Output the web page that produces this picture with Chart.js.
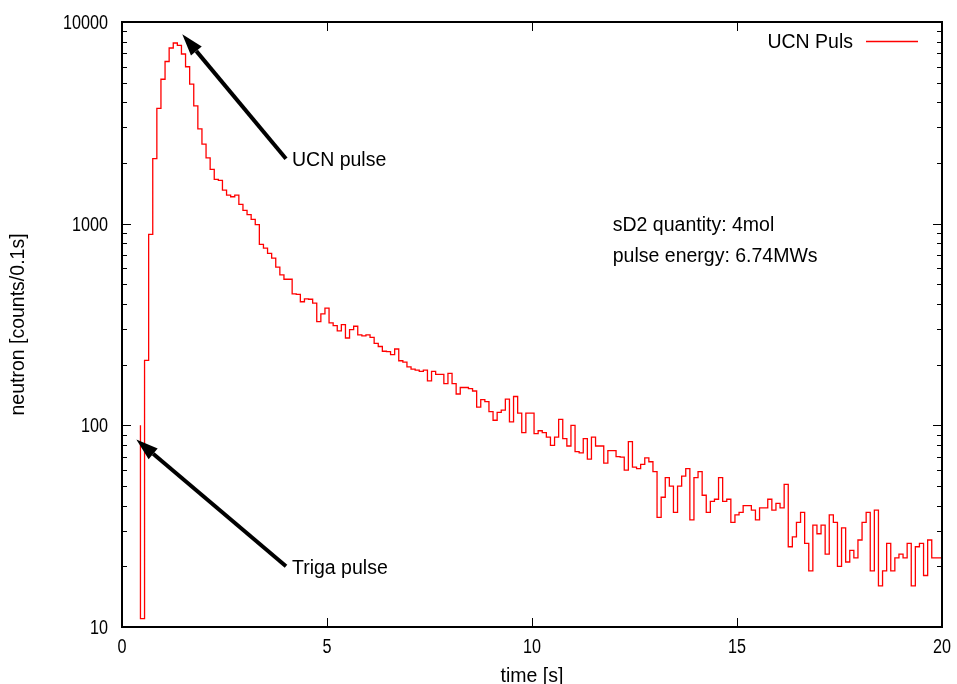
<!DOCTYPE html>
<html>
<head>
<meta charset="utf-8">
<script src="https://cdn.jsdelivr.net/npm/chart.js@4/dist/chart.umd.min.js"></script>
<style>
  html, body { margin: 0; padding: 0; background: #fff; }
  #wrap { width: 957px; height: 684px; }
</style>
</head>
<body>
<div id="wrap"><canvas id="pulseChart" width="957" height="684"></canvas></div>
<script>
// histogram bins of 0.1 s, first (empty) bin starts at 0.35 s
const binStart = 0.35;
const binWidth = 0.1;
const seriesLabel = 'UCN Puls';

// neutron counts per 0.1 s bin
const counts = [
  0, 100, 11, 210, 885, 2100, 3730, 5200, 6370, 7430,
  7870, 7650, 6940, 6000, 4920, 3840, 2950, 2480, 2120, 1860,
  1660, 1640, 1465, 1385, 1360, 1385, 1245, 1165, 1110, 1050,
  990, 790, 757, 712, 675, 609, 557, 530, 530, 449,
  446, 410, 424, 422, 404, 327, 357, 381, 322, 312,
  294, 316, 271, 298, 310, 281, 278, 281, 273, 255,
  246, 233, 232, 224, 239, 209, 206, 195, 190, 188,
  185, 188, 166, 185, 179, 179, 161, 181, 161, 143,
  154, 154, 152, 148, 123, 134, 131, 117, 106, 116,
  119, 135, 104, 139, 115, 92, 115, 115, 91, 94,
  92, 87.5, 79.5, 87.5, 107, 86, 79, 100, 74, 73,
  86, 68, 87.5, 79, 79, 65, 75, 75, 70, 69.5,
  60, 83, 62, 61, 64, 69, 66, 59, 35, 44,
  55, 50, 37, 50, 56, 61, 34, 55, 59, 45,
  37, 42, 43, 55, 42, 43, 33, 36, 37, 40,
  40, 38, 34, 39, 39, 43, 38, 41, 39, 51,
  25, 28, 33, 37, 26, 19, 32, 29, 32, 23,
  36, 33, 20, 31, 21, 24, 22, 27, 33, 37,
  19, 38, 16, 19, 26, 19, 22, 23, 22, 26,
  16, 25, 26, 18, 27, 22, 22
];

const xTicks = [0, 5, 10, 15, 20];
const yTicks = [10, 100, 1000, 10000];

// annotations: arrow tail -> head in data units, label beside the tail
const arrowTails = [[4, 2100], [4, 20]];
const arrowHeads = [[1.47, 8700], [0.35, 85]];
const arrowLabels = ['UCN pulse', 'Triga pulse'];
const noteLines = ['sD2 quantity: 4mol', 'pulse energy: 6.74MWs'];
const notePos = [[11.97, 1000], [11.97, 700]];

const FONT = "'Liberation Sans', Arial, sans-serif";
const TEXT_FONT = '19.5px ' + FONT;
Chart.defaults.font.family = FONT;
Chart.defaults.font.size = 19.5;
Chart.defaults.color = '#000';

const points = [];
counts.forEach((c, i) => points.push({x: binStart + i * binWidth, y: c}));
points.push({x: binStart + counts.length * binWidth, y: counts[counts.length - 1]});

// tick numbers in the reference are a condensed face: squeeze the regular one
function narrowText(ctx, text, px, py, align) {
  ctx.save();
  ctx.translate(px, py);
  ctx.scale(0.83, 1);
  ctx.textAlign = align;
  ctx.fillText(text, 0, 0);
  ctx.restore();
}

// gnuplot style frame, inward ticks, tick labels, legend and labels
const gnuFrame = {
  id: 'gnuFrame',
  afterDatasetsDraw(chart) {
    const {ctx, chartArea: a, scales: {x, y}} = chart;
    const seg = (x1, y1, x2, y2) => { ctx.beginPath(); ctx.moveTo(x1, y1); ctx.lineTo(x2, y2); ctx.stroke(); };
    ctx.save();
    ctx.strokeStyle = '#000';
    ctx.lineWidth = 1;
    x.ticks.forEach(t => {
      const px = Math.round(x.getPixelForValue(t.value)) + 0.5;
      seg(px, a.bottom, px, a.bottom - 9);
      seg(px, a.top, px, a.top + 9);
    });
    for (let d = 10; d < 10000; d *= 10) {
      for (let m = 1; m < 10; m++) {
        const py = Math.round(y.getPixelForValue(d * m)) + 0.5;
        const len = m === 1 ? 9 : 5;
        seg(a.left, py, a.left + len, py);
        seg(a.right, py, a.right - len, py);
      }
    }
    ctx.lineWidth = 2;
    ctx.strokeRect(a.left, a.top, a.right - a.left, a.bottom - a.top);

    ctx.font = TEXT_FONT;
    ctx.fillStyle = '#000';
    ctx.textBaseline = 'middle';

    // tick labels
    x.ticks.forEach(t => narrowText(ctx, String(t.value), x.getPixelForValue(t.value), a.bottom + 21, 'center'));
    y.ticks.forEach(t => narrowText(ctx, String(t.value), a.left - 14, y.getPixelForValue(t.value) + 1.5, 'right'));

    // legend
    ctx.textAlign = 'right';
    const ly = a.top + 19.5;
    ctx.fillText(seriesLabel, a.right - 89, ly + 1.5);
    ctx.strokeStyle = '#ff0000';
    ctx.lineWidth = 1.3;
    seg(a.right - 76, ly, a.right - 24, ly);

    // notes
    ctx.textAlign = 'left';
    noteLines.forEach((t, i) => ctx.fillText(t, x.getPixelForValue(notePos[i][0]), y.getPixelForValue(notePos[i][1]) + 2));

    // arrows
    arrowTails.forEach((tail, i) => {
      const x1 = x.getPixelForValue(tail[0]), y1 = y.getPixelForValue(tail[1]);
      const x2 = x.getPixelForValue(arrowHeads[i][0]), y2 = y.getPixelForValue(arrowHeads[i][1]);
      const ang = Math.atan2(y2 - y1, x2 - x1);
      const hl = 22, hw = 7;
      const bx = x2 - hl * Math.cos(ang), by = y2 - hl * Math.sin(ang);
      ctx.strokeStyle = '#000';
      ctx.lineWidth = 4;
      seg(x1, y1, bx, by);
      ctx.beginPath();
      ctx.moveTo(x2, y2);
      ctx.lineTo(bx + hw * Math.sin(ang), by - hw * Math.cos(ang));
      ctx.lineTo(bx - hw * Math.sin(ang), by + hw * Math.cos(ang));
      ctx.closePath();
      ctx.fillStyle = '#000';
      ctx.fill();
      ctx.fillText(arrowLabels[i], x1 + 6, y1 + 2);
    });
    ctx.restore();
  }
};

const ctx = document.getElementById('pulseChart').getContext('2d');
const pulseChart = new Chart(ctx, {
  type: 'line',
  data: {
    datasets: [{
      label: seriesLabel,
      data: points,
      borderColor: '#ff0000',
      borderWidth: 1.3,
      stepped: 'after',
      pointRadius: 0,
      fill: false
    }]
  },
  options: {
    responsive: false,
    animation: false,
    devicePixelRatio: 1,
    layout: { padding: { top: 22, right: 15, left: 0, bottom: 0 } },
    plugins: { legend: { display: false }, tooltip: { enabled: false } },
    scales: {
      x: {
        type: 'linear',
        min: 0,
        max: 20,
        afterBuildTicks: s => { s.ticks = xTicks.map(v => ({value: v})); },
        afterFit: s => { s.height = 57; s.paddingLeft = 0; s.paddingRight = 0; },
        grid: { display: false, drawTicks: false },
        border: { display: false },
        ticks: { display: false },
        title: { display: true, text: 'time [s]', padding: { top: 0, bottom: -4 } }
      },
      y: {
        type: 'logarithmic',
        min: 10,
        max: 10000,
        afterBuildTicks: s => { s.ticks = yTicks.map(v => ({value: v})); },
        afterFit: s => { s.width = 122; s.paddingTop = 0; s.paddingBottom = 0; },
        grid: { display: false, drawTicks: false },
        border: { display: false },
        ticks: { display: false },
        title: { display: true, text: 'neutron [counts/0.1s]', padding: { top: 7, bottom: 0 } }
      }
    }
  },
  plugins: [gnuFrame]
});
</script>
</body>
</html>
